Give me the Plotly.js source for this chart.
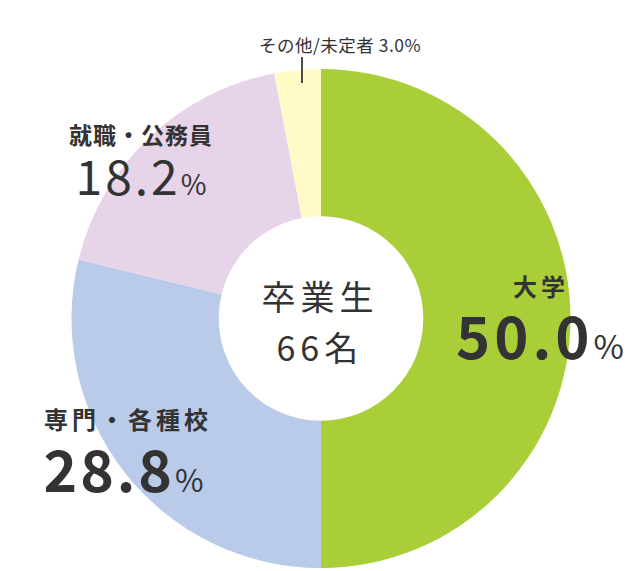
<!DOCTYPE html>
<html>
<head>
<meta charset="utf-8">
<script src="https://cdn.plot.ly/plotly-3.0.1.min.js"></script>
<style>
  html, body { margin: 0; padding: 0; background: #fff; }
  #chart { width: 640px; height: 571px; }
  g.annotation[data-index="0"] text { letter-spacing: 0.5px; }
  g.annotation[data-index="1"] text, g.annotation[data-index="3"] text { letter-spacing: 4px; }
  g.annotation[data-index="5"] text { letter-spacing: 1px; }
  g.annotation[data-index="2"] text { letter-spacing: 4px; }
  g.annotation[data-index="4"] text, g.annotation[data-index="6"] text { letter-spacing: 3px; }
  g.annotation[data-index="7"] text, g.annotation[data-index="8"] text { letter-spacing: 5px; }
</style>
</head>
<body>
<div id="chart"></div>
<script>
// 進路の内訳
let categories = ['大学', '専門・各種校', '就職・公務員', 'その他/未定者'];
let shares = [50.0, 28.8, 18.2, 3.0];
let slice_colors = ['#aace38', '#b9cbe9', '#e7d4e9', '#fffac8'];
let graduates = 66;

let ink = '#333333';
let jp = '"Noto Sans CJK JP", "Noto Sans", sans-serif';

function pct(v) {
    return v.toFixed(1);
}

function px(x) { return x / 640; }
function py(y) { return 1 - y / 571; }

let donut = {
    type: 'pie',
    labels: categories,
    values: shares,
    sort: false,
    direction: 'clockwise',
    rotation: 0,
    hole: 0.41,
    textinfo: 'none',
    hoverinfo: 'label+percent',
    marker: { colors: slice_colors, line: { width: 0 } },
    domain: { x: [px(71), px(571)], y: [py(568), py(69)] },
    showlegend: false
};

let annotations = [
    { // 0 その他
        x: px(340), y: py(45),
        text: categories[3] + ' ' + pct(shares[3]) + '%',
        font: { family: jp, size: 17.5, color: ink }
    },
    { // 1 大学
        x: px(541), y: py(285),
        text: '<b>' + categories[0] + '</b>',
        font: { family: jp, size: 24, color: ink }
    },
    { // 2
        x: px(542), y: py(334),
        text: '<b>' + pct(shares[0]) + '</b><span style="font-size:33px">%</span>',
        font: { family: jp, size: 58, color: ink }
    },
    { // 3 専門
        x: px(128), y: py(418),
        text: '<b>' + categories[1] + '</b>',
        font: { family: jp, size: 24, color: ink }
    },
    { // 4
        x: px(125), y: py(467),
        text: '<b>' + pct(shares[1]) + '</b><span style="font-size:31px">%</span>',
        font: { family: jp, size: 57, color: ink }
    },
    { // 5 就職
        x: px(141), y: py(134),
        text: '<b>' + categories[2] + '</b>',
        font: { family: jp, size: 23, color: ink }
    },
    { // 6
        x: px(142), y: py(174),
        text: pct(shares[2]) + '<span style="font-size:28px">%</span>',
        font: { family: jp, size: 48, color: ink }
    },
    { // 7
        x: px(320), y: py(296),
        text: '卒業生',
        font: { family: jp, size: 34, color: ink }
    },
    { // 8
        x: px(320), y: py(346),
        text: graduates + '名',
        font: { family: jp, size: 34, color: ink }
    }
].map(function (a) {
    a.xref = 'paper';
    a.yref = 'paper';
    a.xanchor = 'center';
    a.yanchor = 'middle';
    a.showarrow = false;
    return a;
});

let layout = {
    width: 640,
    height: 571,
    margin: { l: 0, r: 0, t: 0, b: 0 },
    paper_bgcolor: '#ffffff',
    annotations: annotations,
    shapes: [
        { // その他への引き出し線
            type: 'line', xref: 'paper', yref: 'paper',
            x0: px(302), x1: px(302), y0: py(57), y1: py(83),
            line: { color: '#3a3a3a', width: 1.8 }
        }
    ]
};

Plotly.newPlot('chart', [donut], layout, { staticPlot: true });
</script>
</body>
</html>
